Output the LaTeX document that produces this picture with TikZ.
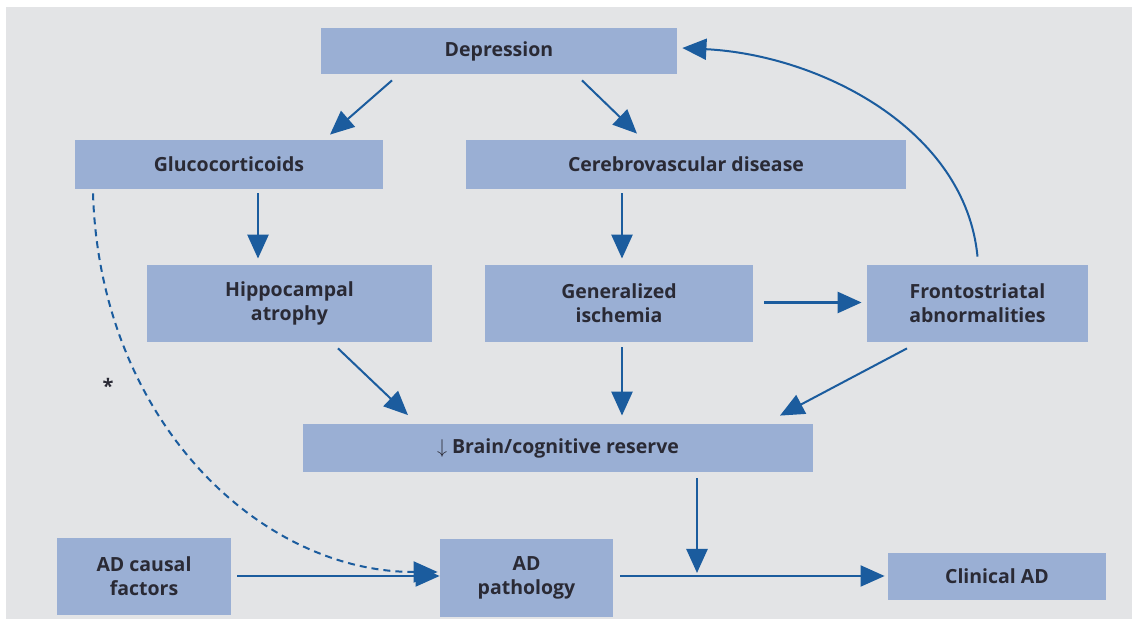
\documentclass[tikz,border=0pt]{standalone}
\usepackage{fontspec}
\setmainfont{Open Sans}
\usetikzlibrary{arrows.meta,calc}
\definecolor{boxblue}{HTML}{9AAFD4}
\definecolor{arrowblue}{HTML}{1B5C9E}
\definecolor{panelgray}{HTML}{E3E4E6}
\definecolor{textdark}{HTML}{2A2A35}
\tikzset{
  box/.style={fill=boxblue, inner sep=0pt, align=center, text=textdark,
    font=\fontsize{9.75}{12}\selectfont\bfseries},
  arr/.style={draw=arrowblue, line width=1.3pt, -{Triangle[length=12pt,width=10.5pt]}},
  thinarr/.style={arr, line width=1pt}
}
\begin{document}
\begin{tikzpicture}[x=0.5pt,y=-0.5pt]
    \useasboundingbox (0,0) rectangle (1132,619);
    \fill [panelgray] (6,7) rectangle (1132,619);
    \node (dep) [box, minimum width=178pt, minimum height=23pt] at (499,51) {Depression};
    \node (gluco) [box, minimum width=154pt, minimum height=24.5pt] at (229,164.5) {Glucocorticoids};
    \node (cvd) [box, minimum width=220pt, minimum height=24.5pt] at (686,164.5) {Cerebrovascular disease};
    \node (hippo) [box, minimum width=142.5pt, minimum height=38.5pt] at (289.5,303.5) {Hippocampal\\atrophy};
    \node (isch) [box, minimum width=134pt, minimum height=38.5pt] at (619,303.5) {Generalized\\ischemia};
    \node (fronto) [box, minimum width=110.5pt, minimum height=38.5pt] at (977.5,303.5) {Frontostriatal\\abnormalities};
    \node (reserve) [box, minimum width=255pt, minimum height=24pt] at (558,448.5) {{\mdseries$\downarrow$} Brain/cognitive reserve};
    \node (causal) [box, minimum width=87pt, minimum height=38.5pt] at (144,576.5) {AD causal\\factors};
    \node (path) [box, minimum width=86.5pt, minimum height=39pt] at (526.5,578) {AD\\pathology};
    \node (clin) [box, minimum width=109pt, minimum height=23.5pt] at (997,576.5) {Clinical AD};
    \node (star) [text=textdark, font=\bfseries] at (108,386) {*};
    \coordinate (join) at (697,576);
    \draw [thinarr] ($(dep.south)+(-107,6)$) -- ($(gluco.north)+(101,-5)$);
    \draw [thinarr] ($(dep.south)+(83,6)$) -- ($(cvd.north)+(-49,-6)$);
    \draw [arr] ($(gluco.south)+(29,4)$) -- ($(hippo.north)+(-31.5,-6)$);
    \draw [arr] ($(cvd.south)+(-64,4)$) -- ($(isch.north)+(3,-6)$);
    \draw [arr] ($(isch.east)+(11,-1)$) -- ($(fronto.west)+(-5,-1)$);
    \draw [thinarr] ($(fronto.north)+(0,-8)$) .. controls +(-12,-127) and +(138,7) .. ($(dep.east)+(5,-3)$);
    \draw [thinarr] ($(hippo.south)+(48.5,6)$) -- ($(reserve.north)+(-150,-9)$);
    \draw [arr] ($(isch.south)+(3,5)$) -- ($(reserve.north)+(64,-8.5)$);
    \draw [thinarr] ($(fronto.south)+(-70.5,6)$) -- ($(reserve.north)+(222,-8.5)$);
    \draw [arr, shorten >=1.5pt] ($(reserve.south)+(139,5.5)$) -- (join);
    \draw [thinarr] ($(causal.east)+(6,-0.5)$) -- ($(path.west)+(0,-2)$);
    \draw [thinarr] ($(path.east)+(7,-2)$) -- ($(clin.west)+(-3,-0.5)$);
    \draw [thinarr, dash pattern=on 3.5pt off 2.5pt] ($(gluco.south)+(-136,4)$) .. controls +(7,227) and +(-178,0) .. ($(path.west)+(-2,-6)$);
\end{tikzpicture}
\end{document}
